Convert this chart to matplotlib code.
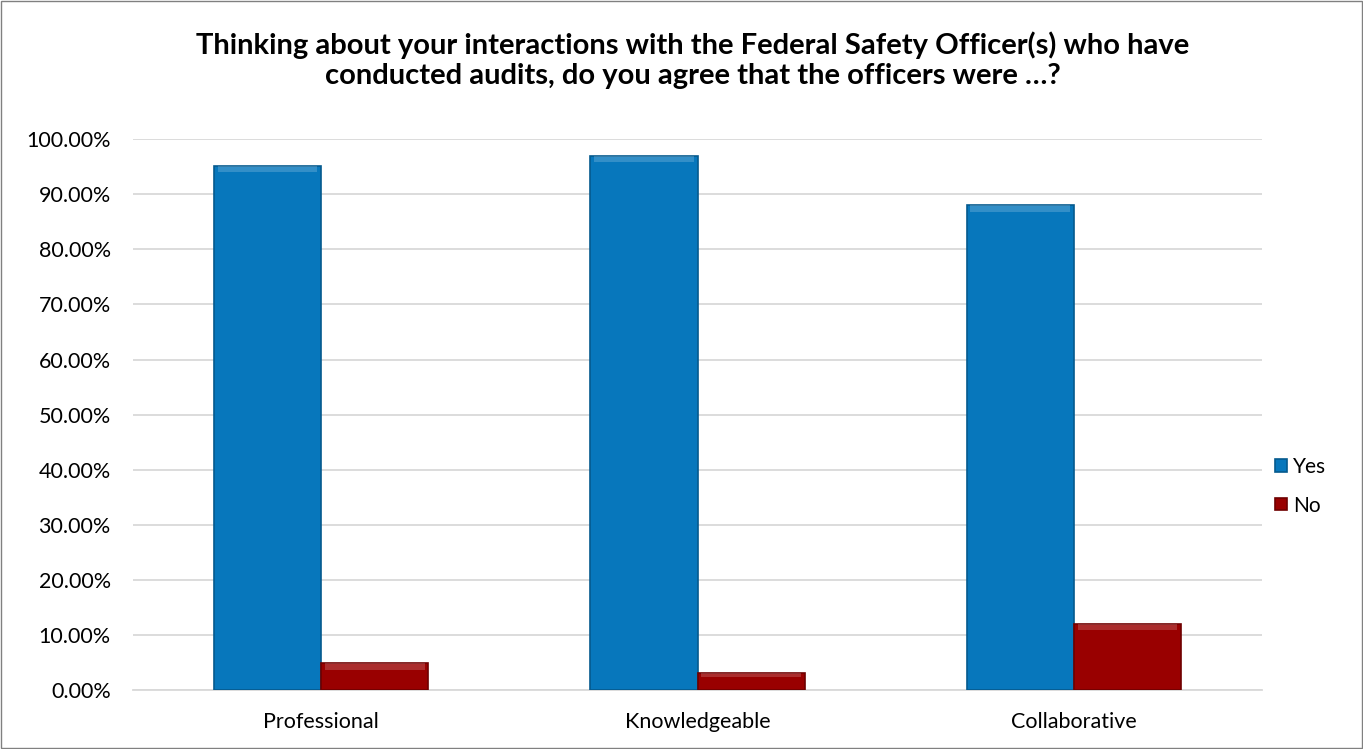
import numpy as np
import matplotlib
matplotlib.use("Agg")
import matplotlib.pyplot as plt
from matplotlib.ticker import FuncFormatter, MultipleLocator
from matplotlib.patches import Rectangle

categories = ["Professional", "Knowledgeable", "Collaborative"]
series_names = ["Yes", "No"]
yes_values = [95.2, 97.0, 88.0]
no_values = [4.8, 3.0, 12.0]
title = ("Thinking about your interactions with the Federal Safety Officer(s) who have\n"
         "conducted audits, do you agree that the officers were \u2026?")

plt.rcParams['font.family'] = ['Lato', 'DejaVu Sans']

fig = plt.figure(figsize=(13.63, 7.49), dpi=100)
ax = fig.add_axes([0.0976, 0.079, 0.8283, 0.735])

x = np.arange(len(categories))
w = 0.285
colors = ["#0777BC", "#990000"]
edges = ["#055a8e", "#6e0000"]

for vals, off, c, e, name in [(yes_values, -w / 2, colors[0], edges[0], series_names[0]),
                              (no_values, w / 2, colors[1], edges[1], series_names[1])]:
    bars = ax.bar(x + off, vals, width=w, color=c, edgecolor=e, linewidth=1.2,
                  label=name, zorder=3)
    # light top bevel strip
    for b in bars:
        h = b.get_height()
        strip = min(1.2, h * 0.25)
        ax.add_patch(Rectangle((b.get_x() + 0.01, h - strip), b.get_width() - 0.02, strip,
                               facecolor="white", alpha=0.18, linewidth=0, zorder=4))

ax.set_xlim(-0.5, len(categories) - 0.5)
ax.set_ylim(0, 100)
ax.yaxis.set_major_locator(MultipleLocator(10))
ax.yaxis.set_major_formatter(FuncFormatter(lambda v, p: f"{v:.2f}%"))
ax.set_xticks(x)
ax.set_xticklabels(categories)
ax.tick_params(axis='both', length=0, labelsize=15.5, colors="#000000")
ax.tick_params(axis='y', pad=16)
ax.tick_params(axis='x', pad=16)
ax.grid(axis='y', color="#D9D9D9", linewidth=1.3, zorder=0)
for s in ["top", "right", "left"]:
    ax.spines[s].set_visible(False)
ax.spines["bottom"].set_color("#D9D9D9")
ax.spines["bottom"].set_linewidth(1.3)

fig.text(0.508, 0.958, title, fontsize=21, fontweight='bold', ha='center', va='top',
         linespacing=1.2)

ax.legend(loc="center left", bbox_to_anchor=(0.995, 0.37), frameon=False, fontsize=15,
          handlelength=0.55, handleheight=0.55, handletextpad=0.3, labelspacing=0.9)

fig.patches.append(Rectangle((0.001, 0.001), 0.998, 0.997, transform=fig.transFigure,
                             fill=False, edgecolor="#808080", linewidth=1.0))

fig.savefig("out.png", dpi=100)
